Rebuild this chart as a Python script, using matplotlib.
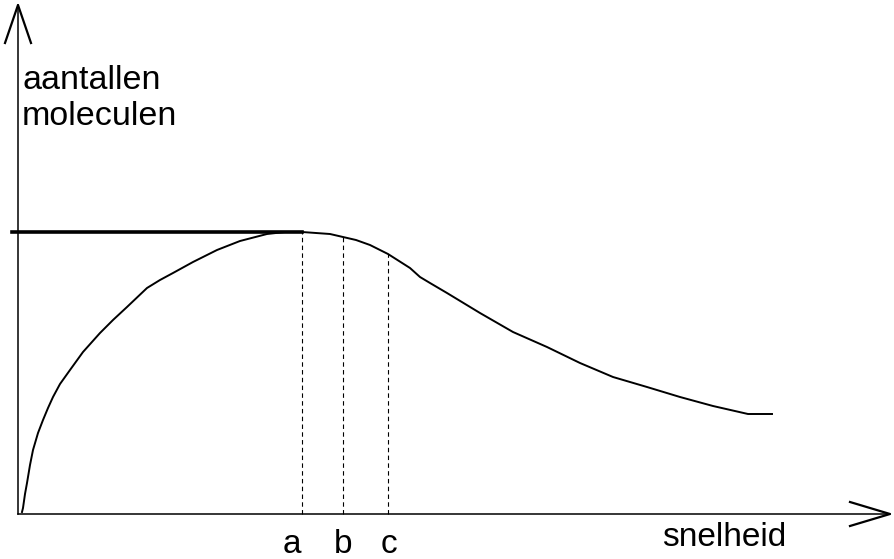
import numpy as np
import matplotlib.pyplot as plt

# ==============================
# DATA
# ==============================

# speed / number of molecules along the hand drawn curve
speed = [4, 5, 7, 9, 12, 15, 20, 25, 30, 35, 42, 52, 65, 82, 95, 109, 129, 142,
         155, 175, 199, 222, 249, 267, 284, 312, 325, 338, 352, 370, 392, 402,
         412, 429, 462, 495, 529, 562, 595, 629, 662, 695, 730, 754]
count = [2, 6, 20, 31, 49, 64, 81, 94, 106, 117, 130, 144, 162, 181, 194, 207,
         226, 234, 241, 252, 264, 273, 280, 282, 282, 280, 277, 274, 269, 260,
         246, 237, 231, 221, 201, 182, 167, 151, 137, 127, 117, 108, 100, 100]

# horizontal line at the maximum
peak_line_x = [-6, 284]
peak_line_y = [282, 282]

# marked speeds
marks = [284, 325, 370]
mark_labels = ["a", "b", "c"]
mark_label_x = [274, 325, 371]

plt.rcParams['font.family'] = ['Liberation Sans', 'DejaVu Sans']

fig = plt.figure(figsize=(8.94, 5.59), dpi=100)
ax = fig.add_axes([0, 0, 1, 1])
ax.set_xlim(-18, 876)
ax.set_ylim(-45, 514)
ax.axis("off")

# axes with open arrow heads
ax.plot([0, 0], [0, 509], color="black", lw=1.1)
ax.plot([0, 872], [0, 0], color="black", lw=1.1)
ax.plot([-13, 0, 13], [471, 509, 471], color="black", lw=1.6)
ax.plot([832, 872, 832], [12, 0, -12], color="black", lw=1.6)

# curve
ax.plot(speed, count, color="black", lw=1.4, solid_joinstyle="round")

# thick line at the top
ax.plot(peak_line_x, peak_line_y, color="black", lw=2.6)

# dashed verticals
for m in marks:
    top = np.interp(m, speed, count)
    ax.plot([m, m], [0, top], color="black", lw=0.8, linestyle=(0, (4, 3)))

for xl, lab in zip(mark_label_x, mark_labels):
    ax.text(xl, -39, lab, fontsize=24, ha="center", va="baseline")

ax.text(644, -32, "snelheid", fontsize=24, ha="left", va="baseline")
ax.text(4, 425, "aantallen", fontsize=24.5, ha="left", va="baseline")
ax.text(4, 389, "moleculen", fontsize=24.5, ha="left", va="baseline")

fig.savefig("out.png", dpi=100)
